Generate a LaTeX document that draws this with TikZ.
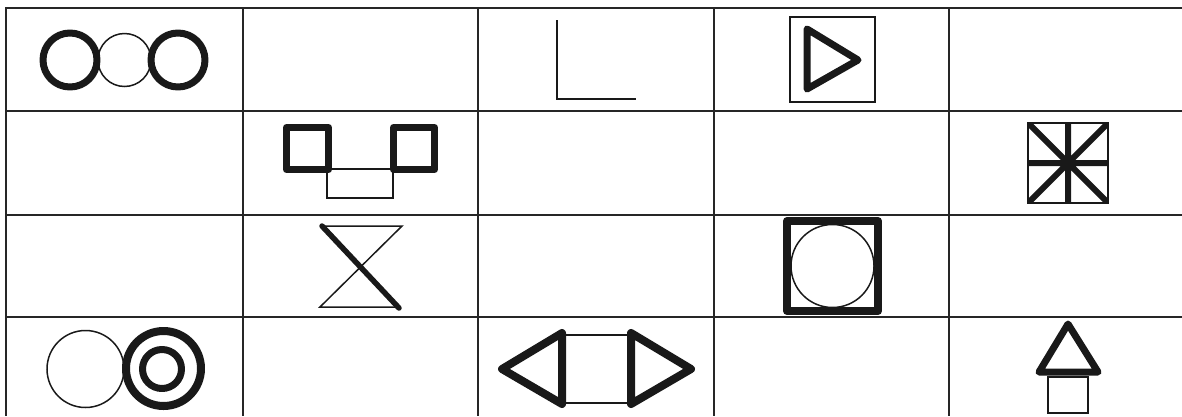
\documentclass[tikz,border=0pt]{standalone}
\usepackage{tikz}
\begin{document}
\begin{tikzpicture}[x=1pt,y=-1pt,
    gridline/.style={line width=2pt,draw=black!85},
    thin/.style={line width=1.5pt,draw=black!90},
    thick/.style={line width=7pt,draw=black!90,line join=round,line cap=round}]
    \useasboundingbox (0,0) rectangle (1182,416);
    % table
    \foreach \x in {6,243,478,714,949} \draw[gridline] (\x,8) -- (\x,416);
    \foreach \y in {8,111,215,317} \draw[gridline] (5,\y) -- (1182,\y);
    % row 1
    \draw[thick] (70,60) circle[radius=27pt];
    \draw[thin] (124.5,60) circle[radius=26.5pt];
    \draw[thick] (178,60) circle[radius=27pt];
    \draw[thin] (557,20) -- (557,99) -- (636,99);
    \draw[thin] (790,17) rectangle (875,102);
    \draw[thick] (807,29) -- (858,60) -- (807,89) -- cycle;
    % row 2
    \draw[thin] (327,169) rectangle (393,198);
    \draw[thick] (286.5,127.5) rectangle (328.5,169.5);
    \draw[thick] (393.5,127.5) rectangle (434.5,169.5);
    \begin{scope}
      \clip (1028,123) rectangle (1108,203);
      \draw[line width=6pt,draw=black!90] (1028,123) -- (1108,203) (1108,123) -- (1028,203)
          (1068,123) -- (1068,203) (1028,163) -- (1108,163);
    \end{scope}
    \draw[thin] (1028,123) rectangle (1108,203);
    % row 3
    \draw[thin] (322,226) -- (402,226) -- (320,307) -- (399,307);
    \draw[thick,line width=5.5pt] (322,226) -- (399,308);
    \draw[thick,line width=8pt] (787,221) rectangle (878,311);
    \draw[thin] (832.5,266) circle[radius=41.5pt];
    % row 4
    \draw[thin] (85.5,369) circle[radius=38.5pt];
    \draw[thick,line width=8pt] (163.5,368.5) circle[radius=37.5pt];
    \draw[thick] (162,369) circle[radius=19.5pt];
    \draw[thin] (562,335) -- (631,335) (562,403) -- (631,403);
    \draw[thick,line width=8pt] (562,333) -- (502,369) -- (562,404) -- cycle;
    \draw[thick,line width=8pt] (631,333) -- (691,369) -- (631,404) -- cycle;
    \draw[thin] (1048,377) rectangle (1088,413);
    \draw[thick] (1068,324) -- (1098,372) -- (1039,372) -- cycle;
\end{tikzpicture}
\end{document}
